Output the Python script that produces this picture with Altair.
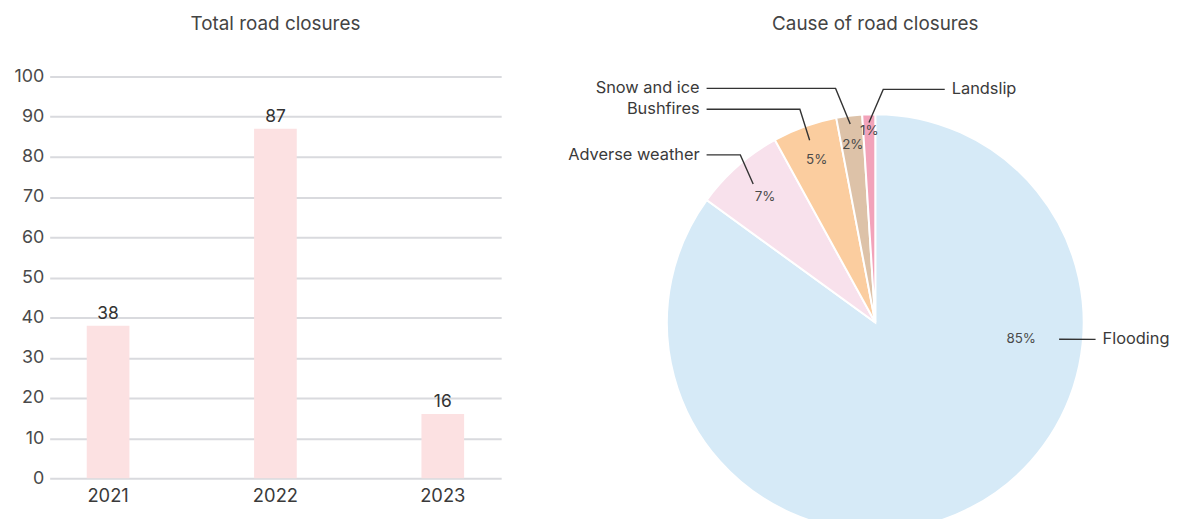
import math
import altair as alt
import pandas as pd

# ---------------- data ----------------
years = ["2021", "2022", "2023"]
closures = [38, 87, 16]

causes = ["Flooding", "Adverse weather", "Bushfires", "Snow and ice", "Landslip"]
shares = [85, 7, 5, 2, 1]

# ---------------- styles ----------------
FONT = "Inter"
BAR_COLOR = "#fce1e2"
cause_colors = ["#d6eaf7", "#f8e1ec", "#fbcd9f", "#ddc2a8", "#f2a3ba"]
TEXT_DARK = "#3a3a3a"

# ---------------- layout (pixels) ----------------
BAR_W, BAR_H = 455, 405
PIE_W, PIE_H = 646, 446
R = 210            # pie radius
CX, CY = 363, 248  # pie centre offset from the pie panel's left / top edge

# leader layout, in px relative to the pie centre (y up)
leader_layout = {
    "Flooding":        dict(r=0.886, angle=95.2, elbow_x=None, end_x=222, y=-17, side="left"),
    "Adverse weather": dict(r=0.886, angle=None, elbow_x=-136, end_x=-170, y=169, side="right"),
    "Bushfires":       dict(r=0.93, angle=None, elbow_x=-76, end_x=-170, y=215, side="right"),
    "Snow and ice":    dict(r=0.96, angle=None, elbow_x=-40, end_x=-170, y=236, side="right"),
    "Landslip":        dict(r=0.96, angle=None, elbow_x=8, end_x=70, y=235, side="left"),
}
# percentage label placement: radius fraction and optional angle override
pct_layout = {
    "Flooding": dict(r=0.705, angle=96.6),
    "Adverse weather": dict(r=0.80, angle=None),
    "Bushfires": dict(r=0.83, angle=None),
    "Snow and ice": dict(r=0.86, angle=None),
    "Landslip": dict(r=0.92, angle=None),
}
LABEL_GAP = 7

# ---------------- bar chart ----------------
bar_df = pd.DataFrame({"year": years, "closures": closures})
xb = alt.X(
    "year:N", sort=years,
    scale=alt.Scale(paddingInner=0.745, paddingOuter=0.2215),
    axis=alt.Axis(title=None, labelAngle=0, domain=False, ticks=False,
                  labelPadding=8, labelFontSize=18.5, labelColor=TEXT_DARK,
                  labelFont=FONT),
)
yb = alt.Y(
    "closures:Q", scale=alt.Scale(domain=[0, 100]),
    axis=alt.Axis(title=None, values=list(range(0, 101, 10)), domain=False,
                  ticks=False, grid=True, gridColor="#d9dade", gridWidth=2,
                  labelPadding=6, minExtent=42, labelFontSize=18,
                  labelColor="#4a4a4a", labelFont=FONT),
)
bar_base = alt.Chart(bar_df)
bars = bar_base.mark_bar(color=BAR_COLOR).encode(x=xb, y=yb)
bar_text = bar_base.mark_text(dy=-12, fontSize=17.5, color="#333333", font=FONT).encode(
    x=xb, y=yb, text="closures:Q"
)
bar_chart = (bars + bar_text).properties(
    width=BAR_W, height=BAR_H,
    title=alt.TitleParams("Total road closures", fontSize=19, color="#444444",
                          font=FONT, fontWeight="normal", offset=34),
)

# ---------------- pie chart ----------------
total = sum(shares)
mids = []
cum = 0
for s in shares:
    mids.append((cum + s / 2) / total * 360)
    cum += s


def polar(angle_deg, radius):
    a = math.radians(angle_deg)
    return radius * math.sin(a), radius * math.cos(a)


pie_df = pd.DataFrame({"cause": causes, "share": shares, "order": list(range(len(causes)))})

line_rows, label_rows, pct_rows = [], [], []
for cause, share, mid in zip(causes, shares, mids):
    lay = leader_layout[cause]
    ang = lay["angle"] if lay["angle"] is not None else mid
    ax, ay = polar(ang, lay["r"] * R)
    pts = [(ax, ay)]
    if lay["elbow_x"] is not None:
        pts.append((lay["elbow_x"], lay["y"]))
    pts.append((lay["end_x"], lay["y"]))
    for i, (px, py) in enumerate(pts):
        line_rows.append({"cause": cause, "seq": i, "x": px, "y": py})
    lx = lay["end_x"] + (LABEL_GAP if lay["side"] == "left" else -LABEL_GAP)
    label_rows.append({"cause": cause, "x": lx, "y": lay["y"], "side": lay["side"]})

    pl = pct_layout[cause]
    pang = pl["angle"] if pl["angle"] is not None else mid
    tx, ty = polar(pang, pl["r"] * R)
    pct_rows.append({"cause": cause, "x": tx, "y": ty, "pct": f"{share}%"})

line_df = pd.DataFrame(line_rows)
label_df = pd.DataFrame(label_rows)
pct_df = pd.DataFrame(pct_rows)

xs = alt.Scale(domain=[-CX, PIE_W - CX], nice=False, zero=False)
ys = alt.Scale(domain=[-(PIE_H - CY), CY], nice=False, zero=False)

arcs = alt.Chart(pie_df).mark_arc(
    outerRadius=R, stroke="white", strokeWidth=2, clip=True
).encode(
    theta=alt.Theta("share:Q", stack=True),
    color=alt.Color("cause:N", scale=alt.Scale(domain=causes, range=cause_colors), legend=None),
    order=alt.Order("order:Q"),
    x=alt.XDatum(0, type="quantitative", scale=xs, axis=None),
    y=alt.YDatum(0, type="quantitative", scale=ys, axis=None),
)

leaders = alt.Chart(line_df).mark_line(color="#333333", strokeWidth=1.4).encode(
    x=alt.X("x:Q", scale=xs, axis=None),
    y=alt.Y("y:Q", scale=ys, axis=None),
    detail="cause:N",
    order="seq:Q",
)

labels_left = alt.Chart(label_df).transform_filter(alt.datum.side == "left").mark_text(
    align="left", baseline="middle", fontSize=16.5, color=TEXT_DARK, font=FONT
).encode(
    x=alt.X("x:Q", scale=xs, axis=None),
    y=alt.Y("y:Q", scale=ys, axis=None),
    text="cause:N",
)
labels_right = alt.Chart(label_df).transform_filter(alt.datum.side == "right").mark_text(
    align="right", baseline="middle", fontSize=16.5, color=TEXT_DARK, font=FONT
).encode(
    x=alt.X("x:Q", scale=xs, axis=None),
    y=alt.Y("y:Q", scale=ys, axis=None),
    text="cause:N",
)
pct_text = alt.Chart(pct_df).mark_text(
    align="center", baseline="middle", fontSize=13.5, color="#4a4a4a", font=FONT
).encode(
    x=alt.X("x:Q", scale=xs, axis=None),
    y=alt.Y("y:Q", scale=ys, axis=None),
    text="pct:N",
)

pie_chart = alt.layer(arcs, leaders, labels_left, labels_right, pct_text).properties(
    width=PIE_W, height=PIE_H,
    title=alt.TitleParams("Cause of road closures", fontSize=19, color="#444444",
                          font=FONT, fontWeight="normal", offset=43,
                          dx=CX - PIE_W / 2),
)

chart = alt.hconcat(bar_chart, pie_chart, spacing=14).properties(
    padding={"left": 0, "top": 5, "right": 0, "bottom": 0}
).configure_view(stroke=None)

chart.save("out.html", embed_options={"renderer": "svg", "actions": False})
